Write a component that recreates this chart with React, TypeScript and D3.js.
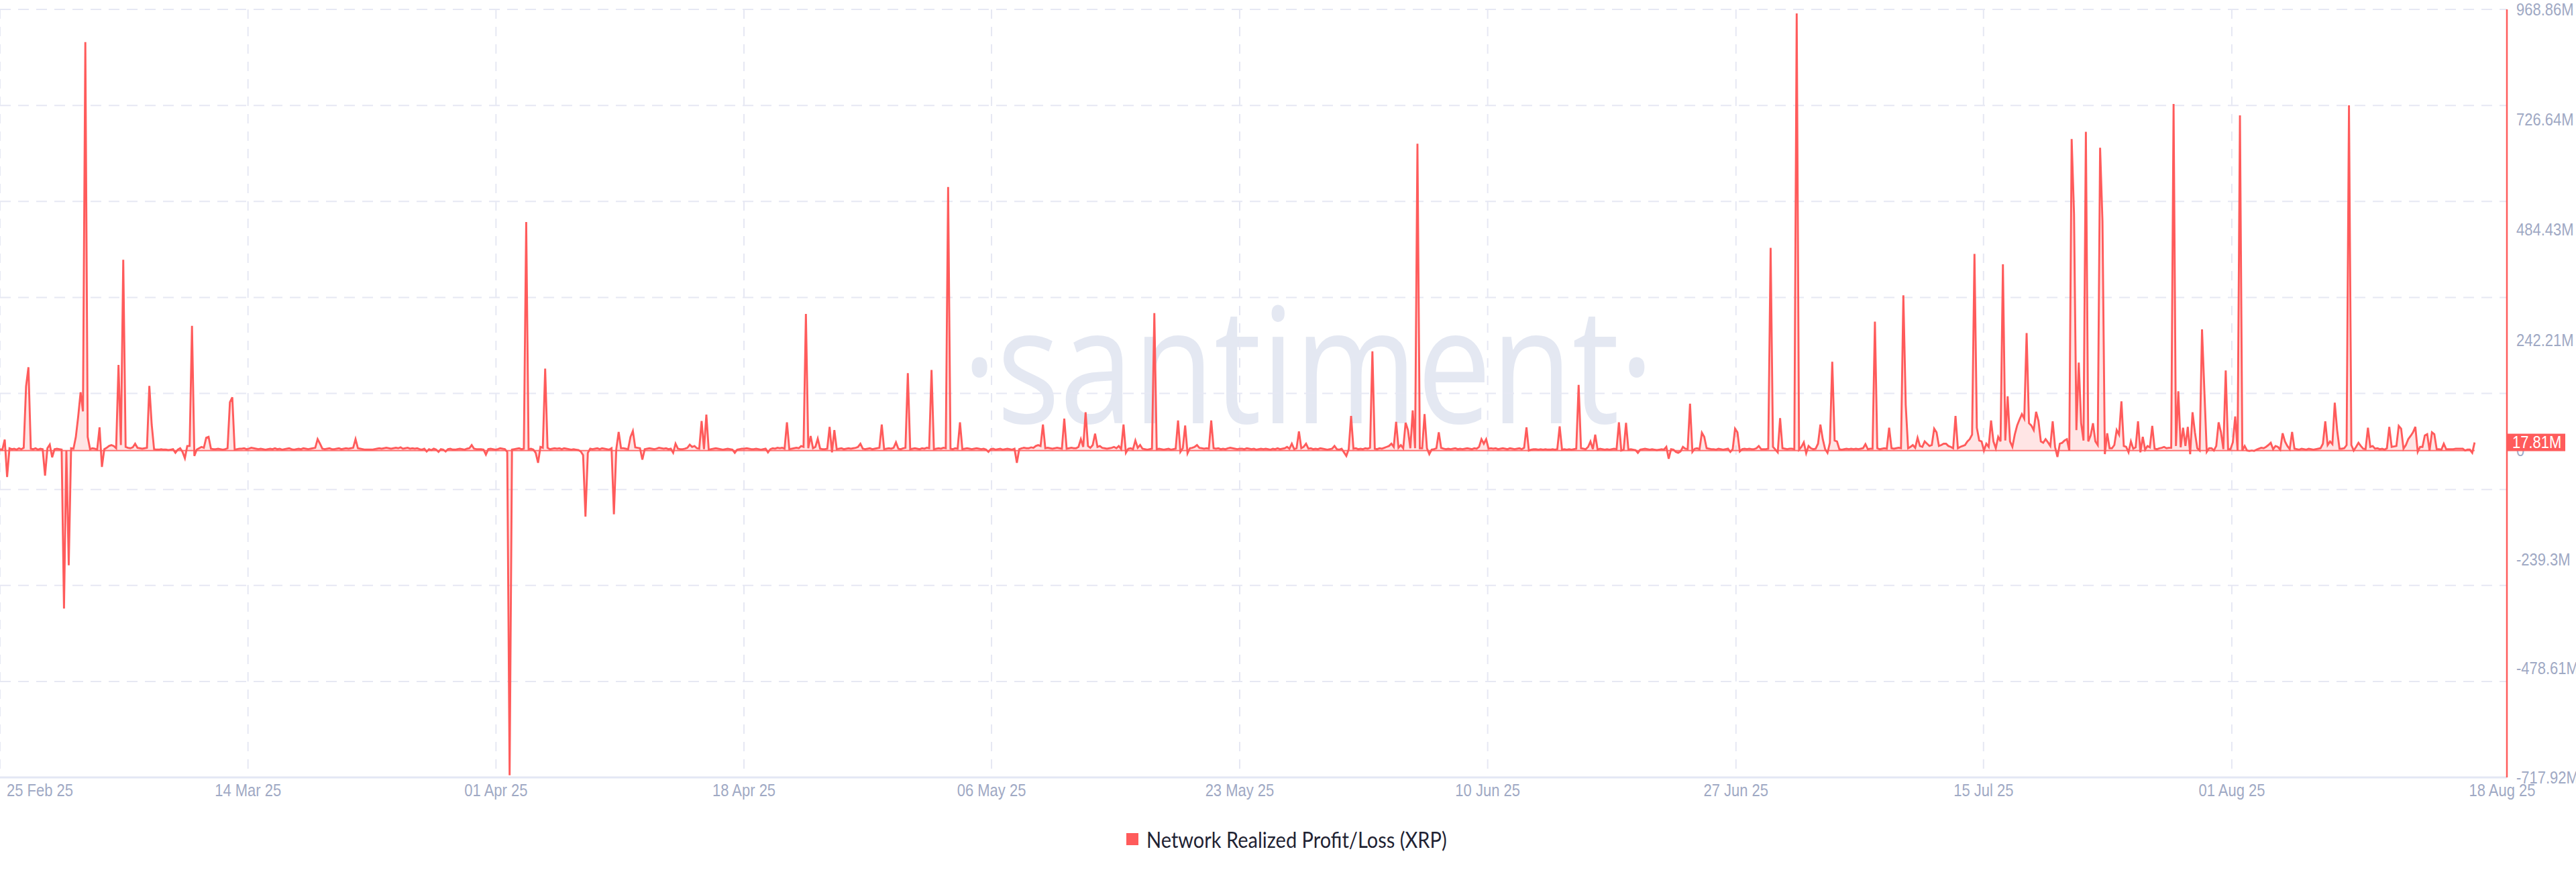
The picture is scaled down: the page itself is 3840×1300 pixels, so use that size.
import * as d3 from "d3";

// Network Realized Profit/Loss (XRP), 4h candles, values in millions. One row = one day.
const feb = [
  3, 2, 24, -58, 5, 3,
  4, 2, 5, 3, 6, 141,
  183, 4, 3, 5, 2, 4,
  3, -55, 5, 13, -15, 3,
];

const mar = [
  4, 3, 2, -347, 0, -252,
  5, 4, 30, 75, 128, 86,
  897, 30, 3, 5, 4, 2,
  51, -36, 3, 6, 10, 12,
  10, 5, 188, 12, 419, 8,
  6, 5, 7, 15, 6, 5,
  4, 5, 6, 142, 57, 3,
  2, 2, 3, 2, 2, 1,
  2, 3, -5, 2, 5, -3,
  -17, 10, 10, 274, -12, 2,
  5, 8, 6, 28, 30, 4,
  3, 3, 4, 3, 2, 3,
  5, 106, 117, 2, 3, 4,
  4, 5, 3, 4, 6, 5,
  4, 3, 4, 3, 2, 3,
  4, 3, 5, 3, 4, 2,
  3, 4, 5, 3, 2, 3,
  4, 3, 5, 4, 3, 4,
  5, 6, 25, 15, 4, 3,
  4, 5, 3, 3, 4, 5,
  3, 4, 5, 4, 5, 6,
  25, 5, 4, 3, 2, 2,
  2, 2, 3, 4, 5, 4,
  5, 6, 5, 4, 5, 6,
  5, 7, 4, 5, 6, 4,
  5, 4, 5, 3, 2, 4,
  -2, 3, 1, 4, 2, -3,
  3, 2, -2, 3, 4, 2,
  2, 3, 4, 3, 2, 4,
  5, 12, 4, 3, 3, 3,
  2, -9, 3, 4, 3, 2,
];

const apr = [
  3, 5, 4, 3, -3, -713,
  2, 3, 4, 5, 3, 4,
  502, 3, 4, 2, -5, -27,
  8, 6, 180, 6, 3, 4,
  5, 4, 5, 3, 5, 4,
  3, 2, 3, 2, 1, -2,
  -10, -145, -5, 4, 3, 4,
  5, 3, 5, 4, 3, 2,
  5, -140, 3, 41, 5, 5,
  4, 3, 30, 43, 7, 6,
  5, -20, 3, 4, 5, 4,
  3, 4, 6, 5, 4, 5,
  3, 4, -5, 15, 4, 3,
  3, 4, 6, 13, 8, 10,
  5, 4, 65, 3, 79, 2,
  3, 4, 5, 4, 3, 2,
  3, 4, 3, 2, -5, 2,
  3, 4, 4, 5, 4, 3,
  3, 4, 3, 2, 3, 4,
  -4, 3, 5, 4, 6, 5,
  6, 4, 62, 3, 4, 5,
  6, 5, 10, 8, 300, 5,
  32, 5, 8, 26, 4, 3,
  3, 4, 52, -4, 45, 3,
  4, 5, 3, 4, 5, 4,
  5, 6, 8, 15, 4, 3,
  4, 5, 3, 4, 5, 6,
  57, 3, 4, 5, 4, 6,
  18, 4, 3, 5, 6, 170,
  3, 4, 5, 4, 3, 5,
];

const may = [
  4, 6, 5, 177, 3, 4,
  5, 4, 6, 5, 579, 4,
  3, 5, 4, 62, 3, 4,
  5, 4, 3, 4, 5, 4,
  3, 4, 2, -3, 3, 4,
  2, 3, 4, 2, 3, 4,
  3, 2, 4, -27, 3, 5,
  6, 5, 5, 7, 6, 10,
  12, 10, 57, 5, 6, 5,
  4, 5, 6, 5, 4, 70,
  4, 5, 6, 5, 5, 8,
  25, 8, 84, 10, 6, 12,
  37, 8, 10, 6, 5, 4,
  5, 6, 8, 5, 10, 3,
  57, -5, 4, 5, 3, 22,
  6, 12, 4, 3, 2, 3,
  4, 302, 3, 4, 3, 2,
  3, 4, 2, 3, 4, 66,
  -3, 5, 55, -6, 5, 6,
  8, 12, 6, 5, 4, 5,
  4, 66, 5, 4, 5, 3,
  4, 3, 5, 6, 5, 4,
  3, 4, 4, 3, 5, 4,
  3, 4, 2, 3, 4, 3,
  4, 3, 2, 4, 3, 5,
  3, 4, 5, 8, 4, 15,
  3, 5, 42, 5, 8, 15,
  4, 5, 3, 4, 3, 5,
  4, 3, 2, 3, 4, 10,
  3, 2, 4, -4, -12, 3,
  76, 4, 5, 3, 4, 3,
];

const jun = [
  5, 4, 6, 218, 4, 3,
  5, 4, 6, 8, 10, 15,
  8, 63, 6, 12, 5, 61,
  45, 5, 88, 5, 674, 5,
  5, 80, 5, -8, 2, 3,
  5, 40, 6, 4, 3, 4,
  3, 4, 5, 3, 4, 3,
  4, 5, 4, 3, 5, 4,
  8, 25, 15, 25, 4, 5,
  4, 5, 3, 4, 5, 4,
  3, 5, 4, 3, 4, 5,
  3, 6, 51, 0, 2, 3,
  3, 2, 3, 2, 3, 2,
  2, 3, 2, 3, 53, 2,
  3, 2, 3, 2, 3, 4,
  144, 5, 4, 3, 8, 20,
  3, 35, 2, 4, 3, 2,
  3, 2, 3, 4, 3, 62,
  0, 2, 61, 2, 3, 2,
  1, -5, 2, 3, 4, 3,
  2, 3, 2, 1, 2, 3,
  2, 8, -18, 3, 2, -3,
  -5, -2, 8, 4, 3, 103,
  -3, 4, 5, 3, 39, 30,
  5, 4, 3, 3, 2, 4,
  3, 2, 3, 4, -3, 3,
  48, 40, -2, 3, 4, 3,
  4, 3, 3, 5, 10, 3,
  3, 3, 4, 445, 8, 2,
  -4, 71, 5, 4, 3, 4,
];

const jul = [
  4, 3, 960, 2, 8, 18,
  -6, 10, 5, 3, 4, 15,
  57, 25, 3, -5, 17, 195,
  22, 20, 3, 2, 3, 4,
  3, 4, 3, 4, 3, 4,
  5, 14, 3, 4, 4, 283,
  5, 3, 4, 5, 4, 50,
  5, 4, 5, 6, 5, 341,
  100, 5, 8, 12, 6, 28,
  10, 8, 20, 15, 10, 12,
  48, 40, 10, 12, 15, 15,
  10, 8, 5, 76, 5, 8,
  10, 12, 20, 25, 35, 432,
  50, 22, 20, 0, 15, 8,
  66, 20, 5, 30, 20, 409,
  22, 119, 20, 8, 35, 55,
  68, 80, 70, 258, 60, 55,
  45, 85, 65, 20, 17, 25,
  18, 10, 64, 8, -14, 15,
  17, 22, 25, 0, 684, 520,
  45, 193, 60, 22, 700, 20,
  33, 60, 20, 12, 665, 504,
  -8, 38, 5, 5, 12, 45,
  35, 108, 10, 8, -4, 20,
  4, 7, 64, -4, 30, 2,
  10, 7, 54, 4, 3, 5,
  6, 8, 5, 6, 6, 761,
  10, 130, 7, 50, 10, 52,
  -8, 84, 40, 5, 0, 266,
  130, -3, 5, 5, 0, 10,
  62, 40, 3, 176, 3, 3,
];

const aug = [
  18, 75, 0, 736, 0, 10,
  0, -1, 0, -1, 2, 4,
  6, 5, 8, 12, 17, 3,
  10, 8, 2, 38, 20, 10,
  3, 41, 4, 3, 2, 4,
  3, 2, 4, 3, 2, 3,
  4, 5, 15, 64, 12, 20,
  14, 105, 45, 4, 4, 5,
  12, 758, 12, 0, 8, 17,
  10, 4, 3, 50, 8, 10,
  4, 5, 3, 4, 2, 5,
  52, 8, 9, 10, 54, 48,
  4, 12, 25, 32, 40, 52,
  -3, 8, 8, 33, 36, 0,
  40, 36, 3, 3, 2, 15,
  3, 3, 3, 3, 4, 4,
  4, 4, 0, 2, 2, -5,
  17.81,
];

const seriesStart = Date.UTC(2025, 1, 25);
const stepMs = 4 * 3600 * 1000;

const tickDates = [
  "2025-02-25T00:00:00Z", "2025-03-14T10:30:00Z", "2025-03-31T21:00:00Z", "2025-04-18T07:30:00Z",
  "2025-05-05T17:15:00Z", "2025-05-23T04:00:00Z", "2025-06-09T14:30:00Z", "2025-06-27T01:30:00Z",
  "2025-07-14T11:15:00Z", "2025-07-31T22:15:00Z", "2025-08-19T22:30:00Z",
];
const tickLabels = [
  "25 Feb 25", "14 Mar 25", "01 Apr 25", "18 Apr 25", "06 May 25", "23 May 25",
  "10 Jun 25", "27 Jun 25", "15 Jul 25", "01 Aug 25", "18 Aug 25",
];

const yTickValues = [968.86, 726.64, 484.43, 242.21, 0, -239.3, -478.61, -717.92];
const yTickLabels = ["968.86M", "726.64M", "484.43M", "242.21M", "0", "-239.3M", "-478.61M", "-717.92M"];

type Pt = { date: Date; value: number };

const W = 3840;
const H = 1300;
const plotLeft = 0;
const plotRight = 3737;
const plotTop = 14;
const plotBottom = 1159;
const red = "#ff5b5b";
const axisText = "#9fa9c4";
const gridColor = "#e6e8f3";
const stretch = 1.15;

export default function App() {
  const values = [...feb, ...mar, ...apr, ...may, ...jun, ...jul, ...aug];
  const data: Pt[] = values.map((v, i) => ({ date: new Date(seriesStart + i * stepMs), value: v }));
  const last = data[data.length - 1];

  const x = d3
    .scaleUtc()
    .domain([new Date(seriesStart), new Date("2025-08-20T06:30:00Z")])
    .range([plotLeft, plotRight]);
  const y = d3.scaleLinear().domain([-717.92, 968.86]).range([plotBottom, plotTop]);
  const gridY = d3.scaleLinear().domain([0, 8]).range([plotTop, plotBottom]);

  const line = d3
    .line<Pt>()
    .x((d) => x(d.date))
    .y((d) => y(d.value));
  const area = d3
    .area<Pt>()
    .x((d) => x(d.date))
    .y0(y(0))
    .y1((d) => y(d.value));

  const ticks = tickDates.map((t) => x(new Date(t)));
  const font = "'Liberation Sans', Arial, sans-serif";

  return (
    <svg
      width={W}
      height={H}
      style={{ position: "absolute", left: 0, top: 0, background: "#fff", display: "block" }}
    >
      {/* watermark */}
      <text
        transform={`translate(1950,631) scale(1,1.22)`}
        textAnchor="middle"
        fontFamily="'Open Sans', sans-serif"
        fontSize={197}
        fill="#e4e8f2"
      >
        ·santiment·
      </text>

      {/* horizontal grid */}
      {d3.range(8).map((k) => (
        <line
          key={`hg${k}`}
          x1={plotLeft}
          x2={plotRight}
          y1={gridY(k)}
          y2={gridY(k)}
          stroke={gridColor}
          strokeWidth={2}
          strokeDasharray="16 11"
        />
      ))}
      {/* vertical grid */}
      {ticks.slice(0, -1).map((tx, k) => (
        <line
          key={`vg${k}`}
          x1={tx}
          x2={tx}
          y1={plotTop}
          y2={plotBottom}
          stroke={gridColor}
          strokeWidth={2}
          strokeDasharray="14 12"
        />
      ))}
      {/* x axis line */}
      <line x1={plotLeft} x2={plotRight} y1={plotBottom} y2={plotBottom} stroke="#e3e7f4" strokeWidth={3} />

      {/* series */}
      <path d={area(data) ?? ""} fill={red} fillOpacity={0.16} />
      <line
        x1={x(data[0].date)}
        x2={x(last.date)}
        y1={y(0)}
        y2={y(0)}
        stroke={red}
        strokeWidth={2}
        strokeOpacity={0.85}
      />
      <path d={line(data) ?? ""} fill="none" stroke={red} strokeWidth={2.9} />

      {/* right axis */}
      <line x1={plotRight} x2={plotRight} y1={plotTop} y2={plotBottom} stroke={red} strokeWidth={2.5} />
      {yTickValues.map((v, k) => (
        <text
          key={`yl${k}`}
          transform={`translate(3751,${y(v)}) scale(1,${stretch})`}
          dominantBaseline="central"
          fontFamily={font}
          fontSize={22}
          fill={axisText}
        >
          {yTickLabels[k]}
        </text>
      ))}
      <rect x={plotRight + 1} y={y(last.value) - 13} width={86} height={26} fill={red} />
      <text
        transform={`translate(3745,${y(last.value)}) scale(1,${stretch})`}
        dominantBaseline="central"
        fontFamily={font}
        fontSize={22}
        fill="#fff"
      >
        {`${last.value.toFixed(2)}M`}
      </text>

      {/* x tick labels */}
      {ticks.map((tx, k) => (
        <text
          key={`xl${k}`}
          transform={`translate(${k === 0 ? tx + 10 : tx},1178) scale(1,${stretch})`}
          textAnchor={k === 0 ? "start" : "middle"}
          dominantBaseline="central"
          fontFamily={font}
          fontSize={22}
          fill={axisText}
        >
          {tickLabels[k]}
        </text>
      ))}

      {/* legend */}
      <rect x={1679} y={1242} width={18} height={18} fill={red} />
      <text
        transform={`translate(1709,1251) scale(1,${stretch})`}
        dominantBaseline="central"
        fontFamily="Lato, 'Open Sans', sans-serif"
        fontSize={29}
        fill="#1f2333"
      >
        Network Realized Profit/Loss (XRP)
      </text>
    </svg>
  );
}
